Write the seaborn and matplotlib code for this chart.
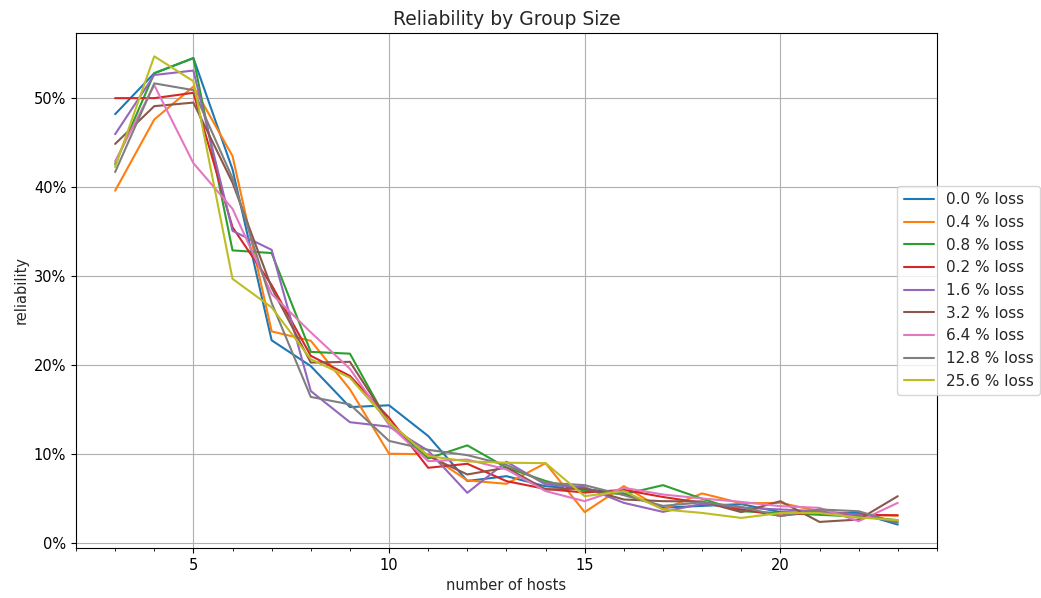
import numpy as np
import pandas as pd
import matplotlib
matplotlib.use("Agg")
import matplotlib.pyplot as plt
import seaborn as sns
from matplotlib.ticker import MultipleLocator, PercentFormatter

hosts = list(range(3, 24))

loss_labels = ["0.0 % loss", "0.4 % loss", "0.8 % loss", "0.2 % loss", "1.6 % loss",
               "3.2 % loss", "6.4 % loss", "12.8 % loss", "25.6 % loss"]

loss_0_0 = [0.482, 0.528, 0.545, 0.420, 0.228, 0.199, 0.153, 0.155, 0.1205, 0.070, 0.0754,
            0.064, 0.061, 0.056, 0.040, 0.042, 0.044, 0.035, 0.034, 0.034, 0.021]
loss_0_4 = [0.396, 0.476, 0.513, 0.435, 0.238, 0.2275, 0.173, 0.1006, 0.100, 0.0706, 0.0668,
            0.090, 0.035, 0.0642, 0.038, 0.056, 0.045, 0.0454, 0.036, 0.032, 0.031]
loss_0_8 = [0.426, 0.528, 0.545, 0.329, 0.326, 0.215, 0.213, 0.134, 0.0953, 0.110, 0.085,
            0.070, 0.059, 0.055, 0.0653, 0.050, 0.036, 0.034, 0.032, 0.030, 0.026]
loss_0_2 = [0.500, 0.500, 0.506, 0.355, 0.290, 0.2106, 0.188, 0.141, 0.0848, 0.0893, 0.0698,
            0.061, 0.057, 0.060, 0.052, 0.0454, 0.038, 0.031, 0.0353, 0.032, 0.0315]
loss_1_6 = [0.4595, 0.526, 0.531, 0.351, 0.3296, 0.171, 0.136, 0.131, 0.104, 0.0567, 0.0916,
            0.066, 0.063, 0.0454, 0.0353, 0.0443, 0.040, 0.038, 0.036, 0.032, 0.024]
loss_3_2 = [0.4486, 0.491, 0.495, 0.405, 0.287, 0.203, 0.2038, 0.136, 0.098, 0.0773, 0.085,
            0.0604, 0.0616, 0.0492, 0.0473, 0.047, 0.035, 0.0473, 0.024, 0.0267, 0.0529]
loss_6_4 = [0.429, 0.5146, 0.427, 0.3757, 0.280, 0.237, 0.196, 0.133, 0.0923, 0.094, 0.083,
            0.0586, 0.0473, 0.0623, 0.0548, 0.0503, 0.0465, 0.0417, 0.0398, 0.0248, 0.0454]
loss_12_8 = [0.417, 0.5166, 0.509, 0.410, 0.270, 0.1644, 0.156, 0.115, 0.105, 0.099, 0.088,
             0.068, 0.0653, 0.054, 0.042, 0.046, 0.041, 0.0304, 0.038, 0.036, 0.0229]
loss_25_6 = [0.4227, 0.547, 0.519, 0.297, 0.265, 0.2068, 0.186, 0.136, 0.098, 0.092, 0.0905,
             0.090, 0.0529, 0.0586, 0.038, 0.0341, 0.0285, 0.034, 0.034, 0.029, 0.026]

series = [loss_0_0, loss_0_4, loss_0_8, loss_0_2, loss_1_6,
          loss_3_2, loss_6_4, loss_12_8, loss_25_6]

df = pd.DataFrame(
    [(h, v, lab) for lab, vals in zip(loss_labels, series) for h, v in zip(hosts, vals)],
    columns=["hosts", "reliability", "loss"],
)

sns.set_style("ticks")
plt.rcParams["font.family"] = ["DejaVu Sans"]

fig, ax = plt.subplots(figsize=(10.41, 5.98), dpi=100)
fig.subplots_adjust(left=0.073, right=0.900, top=0.945, bottom=0.0836)

sns.lineplot(data=df, x="hosts", y="reliability", hue="loss", hue_order=loss_labels,
             palette="tab10", linewidth=1.5, ax=ax)

ax.set_xlim(2, 24)
ax.xaxis.set_major_locator(MultipleLocator(5))
ax.xaxis.set_minor_locator(MultipleLocator(1))
ax.yaxis.set_major_locator(MultipleLocator(0.1))
ax.yaxis.set_major_formatter(PercentFormatter(1.0, decimals=0))
ax.grid(True, which="major", color="#b0b0b0", linewidth=0.8)
for s in ax.spines.values():
    s.set_color("black")
    s.set_linewidth(0.8)
ax.tick_params(axis="both", which="both", colors="black", labelsize=10.5)

ax.set_title("Reliability by Group Size", fontsize=13.5)
ax.set_xlabel("number of hosts", fontsize=10.5)
ax.set_ylabel("reliability", fontsize=10.5)

ax.legend(loc="center right", bbox_to_anchor=(1.129, 0.5), fontsize=11, framealpha=0.8)

fig.savefig("out.png", dpi=100)
